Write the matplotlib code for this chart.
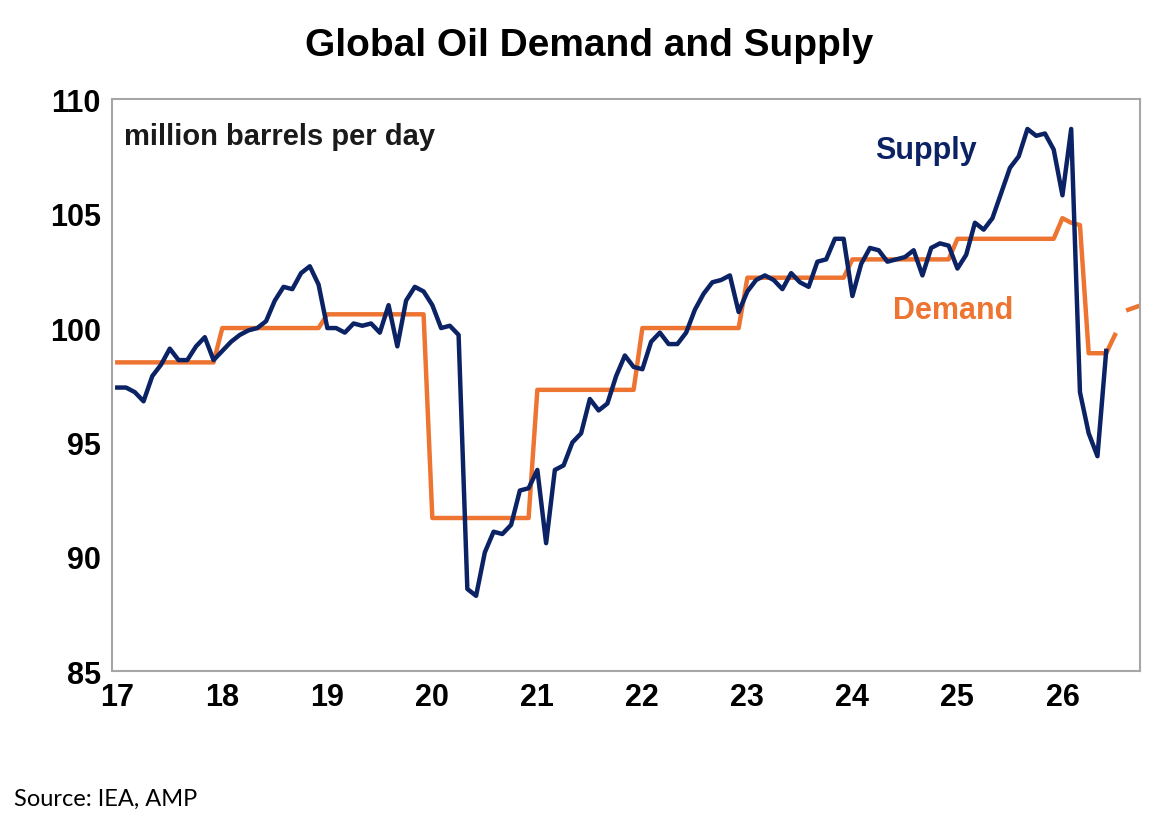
import numpy as np
import matplotlib
matplotlib.use("Agg")
import matplotlib.pyplot as plt

supply = [
 97.4, 97.4, 97.2, 96.8, 97.9, 98.4, 99.1, 98.6, 98.6, 99.2, 99.6, 98.6,   # 2017
 99.0, 99.4, 99.7, 99.9, 100.0, 100.3, 101.2, 101.8, 101.7, 102.4, 102.7, 101.9,  # 2018
 100.0, 100.0, 99.8, 100.2, 100.1, 100.2, 99.8, 101.0, 99.2, 101.2, 101.8, 101.6,  # 2019
 101.0, 100.0, 100.1, 99.7, 88.6, 88.3, 90.2, 91.1, 91.0, 91.4, 92.9, 93.0,  # 2020
 93.8, 90.6, 93.8, 94.0, 95.0, 95.4, 96.9, 96.4, 96.7, 97.9, 98.8, 98.3,  # 2021
 98.2, 99.4, 99.8, 99.3, 99.3, 99.8, 100.8, 101.5, 102.0, 102.1, 102.3, 100.7,  # 2022
 101.6, 102.1, 102.3, 102.1, 101.7, 102.4, 102.0, 101.8, 102.9, 103.0, 103.9, 103.9,  # 2023
 101.4, 102.8, 103.5, 103.4, 102.9, 103.0, 103.1, 103.4, 102.3, 103.5, 103.7, 103.6,  # 2024
 102.6, 103.2, 104.6, 104.3, 104.8, 105.9, 107.0, 107.5, 108.7, 108.4, 108.5, 107.8,  # 2025
 105.8, 108.7, 97.2, 95.4, 94.4, 99.0,  # 2026
]
demand_years = [98.5, 100.0, 100.6, 91.7, 97.3, 100.0, 102.2, 103.0, 103.9]  # 2017-2025
demand_2026 = [104.8, 104.6, 104.5, 98.9, 98.9, 98.9, 99.7, np.nan, 100.8, 101.0, 101.0]
years = [17, 18, 19, 20, 21, 22, 23, 24, 25, 26]
ylabels = [85, 90, 95, 100, 105, 110]

demand = list(np.repeat(demand_years, 12)) + demand_2026
xs = 17 + np.arange(len(supply)) / 12
xd = 17 + np.arange(len(demand)) / 12
xd[-3] -= 0.04  # start of the short final stub

fig = plt.figure(figsize=(11.67, 8.28), dpi=100)
ax = fig.add_axes([0.096, 0.188, 0.881, 0.691])
navy = "#0b2265"
orange = "#ee7431"
ax.plot(xd, demand, color=orange, lw=3.2)
ax.plot(xs, supply, color=navy, lw=3.2)
ax.set_xlim(16.95, 26.74)
ax.set_ylim(85, 110)
ax.set_xticks(years)
ax.set_xticklabels([str(y) for y in years])
ax.set_yticks(ylabels)
ax.tick_params(axis="both", length=0, labelsize=22, pad=8)
for lab in ax.get_xticklabels() + ax.get_yticklabels():
    lab.set_fontweight("bold")
    lab.set_family("Liberation Sans")
for s in ax.spines.values():
    s.set_color("#a6a6a6")
    s.set_linewidth(1.5)

ax.text(0.012, 0.935, "million barrels per day", transform=ax.transAxes,
        fontsize=21, fontweight="bold", color="#1a1a1a", family="Liberation Sans",
        va="center", ha="left")
ax.text(24.7, 107.8, "Supply", color=navy, fontsize=22, fontweight="bold",
        family="Liberation Sans", ha="center", va="center")
ax.text(24.96, 100.8, "Demand", color=orange, fontsize=22, fontweight="bold",
        family="Liberation Sans", ha="center", va="center")
fig.text(0.505, 0.945, "Global Oil Demand and Supply", ha="center", va="center",
         fontsize=28, fontweight="bold", family="Liberation Sans")
fig.text(0.012, 0.035, "Source: IEA, AMP", ha="left", va="center", fontsize=17,
         family="Lato")
fig.savefig("out.png", dpi=100)
